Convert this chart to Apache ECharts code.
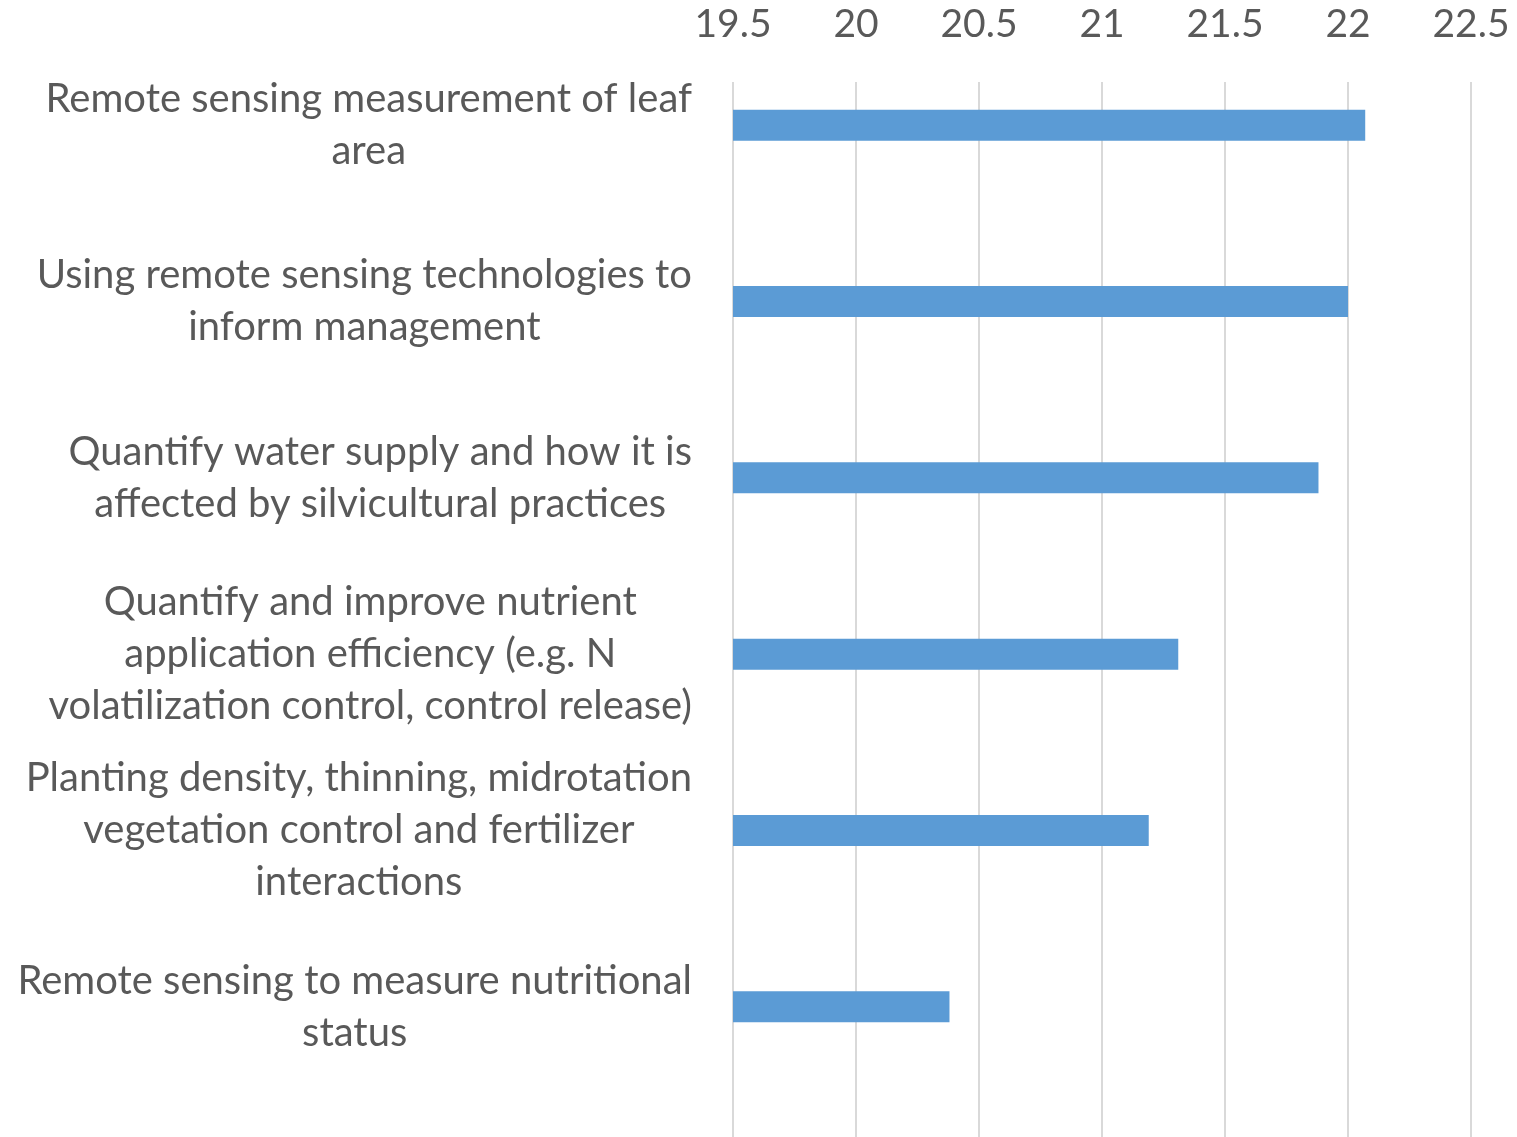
<!DOCTYPE html>
<html>
<head>
<meta charset="utf-8">
<script src="https://cdn.jsdelivr.net/npm/echarts@6/dist/echarts.min.js"></script>
<style>
html,body{margin:0;padding:0;background:#fff;}
#chart{width:1517px;height:1137px;}
</style>
</head>
<body>
<div id="chart"></div>
<script>
const categories = [
  "Remote sensing measurement of leaf\narea",
  "Using remote sensing technologies to\ninform management",
  "Quantify water supply and how it is\naffected by silvicultural practices",
  "Quantify and improve nutrient\napplication efficiency (e.g. N\nvolatilization control, control release)",
  "Planting density, thinning, midrotation\nvegetation control and fertilizer\ninteractions",
  "Remote sensing to measure nutritional\nstatus"
];
const values = [22.07, 22.0, 21.88, 21.31, 21.19, 20.38];
const axisMin = 19.5, axisMax = 22.5, axisStep = 0.5;

const FONT = 'Lato';
const TXT = '#595959';
const chart = echarts.init(document.getElementById('chart'), null, {renderer: 'canvas'});
chart.setOption({
  animation: false,
  backgroundColor: '#fff',
  grid: [
    {left: 733, right: 46, top: 82, bottom: 0, containLabel: false},
    {left: 733, right: 46, top: 37, bottom: 42, containLabel: false}
  ],
  xAxis: [
    {
      gridIndex: 0, type: 'value', position: 'top', min: axisMin, max: axisMax, interval: axisStep,
      axisLine: {show: false}, axisTick: {show: false},
      splitLine: {show: true, lineStyle: {color: '#D9D9D9', width: 2}},
      axisLabel: {show: true, color: TXT, fontFamily: FONT, fontSize: 39, margin: 38,
        formatter: v => String(v)}
    },
    {
      gridIndex: 1, type: 'value', min: axisMin, max: axisMax, interval: axisStep,
      show: false
    }
  ],
  yAxis: [
    {gridIndex: 0, type: 'category', data: categories, show: false},
    {
      gridIndex: 1, type: 'category', data: categories, inverse: true,
      axisLine: {show: false}, axisTick: {show: false}, splitLine: {show: false},
      axisLabel: {
        color: TXT, fontFamily: FONT, fontSize: 40, margin: 41, lineHeight: 52,
        formatter: s => s.split('\n').map(l => '{c|' + l + '}').join('\n'),
        rich: {c: {align: 'center', color: TXT, fontFamily: FONT, fontSize: 40, lineHeight: 52}}
      }
    }
  ],
  series: [{
    type: 'bar', xAxisIndex: 1, yAxisIndex: 1, data: values, barWidth: 31,
    itemStyle: {color: '#5B9BD5'}
  }]
});
</script>
</body>
</html>
